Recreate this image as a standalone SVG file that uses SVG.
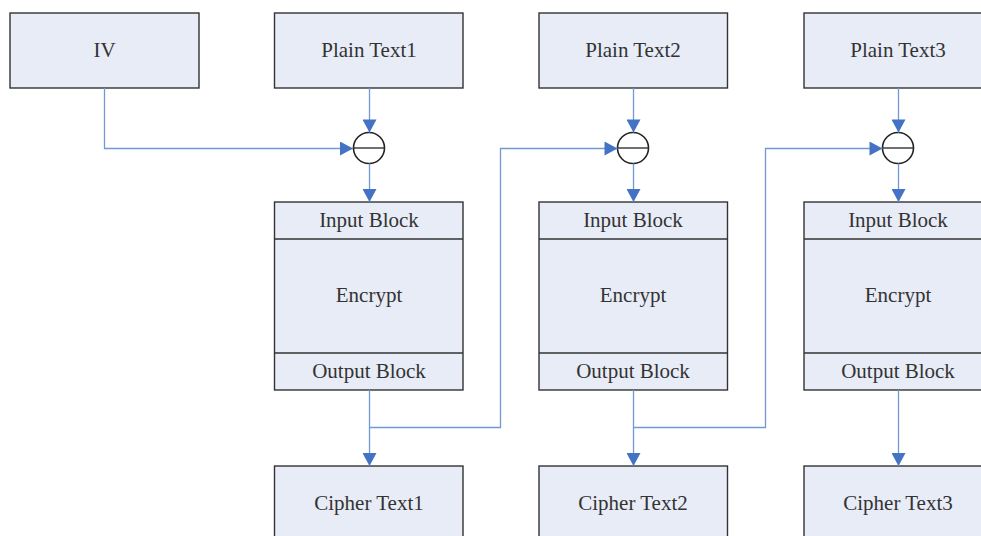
<svg xmlns="http://www.w3.org/2000/svg" width="981" height="536" viewBox="0 0 981 536">
  <style>
    .box { fill: #e8ecf7; stroke: #333333; stroke-width: 1.4; }
    .div { stroke: #333333; stroke-width: 1.4; }
    .lbl { font-family: "Liberation Serif", "Times New Roman", serif; font-size: 21px; fill: #333333; text-anchor: middle; }
    .wire { fill: none; stroke: #7399d4; stroke-width: 1.3; }
    .xor { fill: #ffffff; stroke: #222222; stroke-width: 1.6; }
  </style>
  <defs>
    <marker id="arrow" markerUnits="userSpaceOnUse" markerWidth="14" markerHeight="14" viewBox="0 0 13 14" refX="13" refY="7" orient="auto">
      <path d="M0,0 L13,7 L0,14 Z" fill="#4472c4"/>
    </marker>
  </defs>

  <!-- source blocks -->
  <g id="iv">
    <rect class="box" x="10" y="13" width="189" height="75"/>
    <text class="lbl" x="104.5" y="57">IV</text>
  </g>
  <g id="plain1">
    <rect class="box" x="274.5" y="13" width="188.5" height="75"/>
    <text class="lbl" x="369" y="57">Plain Text1</text>
  </g>
  <g id="plain2">
    <rect class="box" x="539" y="13" width="188.5" height="75"/>
    <text class="lbl" x="633" y="57">Plain Text2</text>
  </g>
  <g id="plain3">
    <rect class="box" x="804" y="13" width="188.5" height="75"/>
    <text class="lbl" x="898" y="57">Plain Text3</text>
  </g>

  <!-- XOR operators -->
  <g id="xor1">
    <circle class="xor" cx="369" cy="148" r="15.5"/>
    <line class="div" x1="353.5" y1="148" x2="384.5" y2="148"/>
  </g>
  <g id="xor2">
    <circle class="xor" cx="633" cy="148" r="15.5"/>
    <line class="div" x1="617.5" y1="148" x2="648.5" y2="148"/>
  </g>
  <g id="xor3">
    <circle class="xor" cx="898" cy="148" r="15.5"/>
    <line class="div" x1="882.5" y1="148" x2="913.5" y2="148"/>
  </g>

  <!-- cipher stages -->
  <g id="encrypt1">
    <rect class="box" x="274.5" y="202" width="188.5" height="188"/>
    <line class="div" x1="274.5" y1="239" x2="463" y2="239"/>
    <line class="div" x1="274.5" y1="353" x2="463" y2="353"/>
    <text class="lbl" x="369" y="227">Input Block</text>
    <text class="lbl" x="369" y="302">Encrypt</text>
    <text class="lbl" x="369" y="378">Output Block</text>
  </g>
  <g id="encrypt2">
    <rect class="box" x="539" y="202" width="188.5" height="188"/>
    <line class="div" x1="539" y1="239" x2="727.5" y2="239"/>
    <line class="div" x1="539" y1="353" x2="727.5" y2="353"/>
    <text class="lbl" x="633" y="227">Input Block</text>
    <text class="lbl" x="633" y="302">Encrypt</text>
    <text class="lbl" x="633" y="378">Output Block</text>
  </g>
  <g id="encrypt3">
    <rect class="box" x="804" y="202" width="188.5" height="188"/>
    <line class="div" x1="804" y1="239" x2="992.5" y2="239"/>
    <line class="div" x1="804" y1="353" x2="992.5" y2="353"/>
    <text class="lbl" x="898" y="227">Input Block</text>
    <text class="lbl" x="898" y="302">Encrypt</text>
    <text class="lbl" x="898" y="378">Output Block</text>
  </g>

  <!-- outputs -->
  <g id="cipher1">
    <rect class="box" x="274.5" y="466" width="188.5" height="75"/>
    <text class="lbl" x="369" y="510">Cipher Text1</text>
  </g>
  <g id="cipher2">
    <rect class="box" x="539" y="466" width="188.5" height="75"/>
    <text class="lbl" x="633" y="510">Cipher Text2</text>
  </g>
  <g id="cipher3">
    <rect class="box" x="804" y="466" width="188.5" height="75"/>
    <text class="lbl" x="898" y="510">Cipher Text3</text>
  </g>

  <!-- connectors -->
  <g id="connectors">
    <polyline class="wire" points="104.5,88 104.5,148.5 353,148.5" marker-end="url(#arrow)"/>
    <line class="wire" x1="369.5" y1="88" x2="369.5" y2="132.5" marker-end="url(#arrow)"/>
    <line class="wire" x1="633.5" y1="88" x2="633.5" y2="132.5" marker-end="url(#arrow)"/>
    <line class="wire" x1="898.5" y1="88" x2="898.5" y2="132.5" marker-end="url(#arrow)"/>

    <line class="wire" x1="369.5" y1="163.5" x2="369.5" y2="202" marker-end="url(#arrow)"/>
    <line class="wire" x1="633.5" y1="163.5" x2="633.5" y2="202" marker-end="url(#arrow)"/>
    <line class="wire" x1="898.5" y1="163.5" x2="898.5" y2="202" marker-end="url(#arrow)"/>

    <line class="wire" x1="369.5" y1="390" x2="369.5" y2="466" marker-end="url(#arrow)"/>
    <line class="wire" x1="633.5" y1="390" x2="633.5" y2="466" marker-end="url(#arrow)"/>
    <line class="wire" x1="898.5" y1="390" x2="898.5" y2="466" marker-end="url(#arrow)"/>

    <polyline class="wire" points="369.5,427.5 500.5,427.5 500.5,148.5 617.5,148.5" marker-end="url(#arrow)"/>
    <polyline class="wire" points="633.5,427.5 765.5,427.5 765.5,148.5 882.5,148.5" marker-end="url(#arrow)"/>
  </g>
</svg>
